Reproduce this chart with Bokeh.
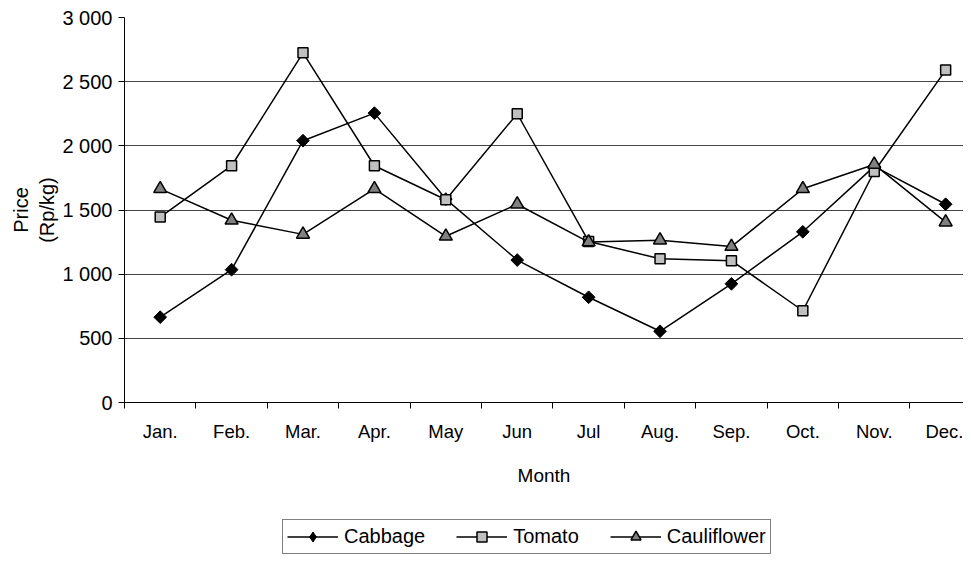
import math
from bokeh.plotting import figure
from bokeh.layouts import column
from bokeh.models import FixedTicker, Legend, LegendItem, Range1d
from bokeh.embed import file_html
from bokeh.resources import INLINE

months = ["Jan.", "Feb.", "Mar.", "Apr.", "May", "Jun", "Jul", "Aug.", "Sep.", "Oct.", "Nov.", "Dec."]
cabbage = [665, 1035, 2040, 2255, 1585, 1110, 820, 555, 925, 1330, 1840, 1545]
tomato = [1445, 1845, 2725, 1845, 1580, 2250, 1255, 1120, 1105, 715, 1800, 2590]
cauliflower = [1665, 1420, 1310, 1665, 1295, 1545, 1250, 1265, 1215, 1665, 1855, 1405]
y_ticks = [0, 500, 1000, 1500, 2000, 2500, 3000]
y_labels = ["0", "500", "1 000", "1 500", "2 000", "2 500", "3 000"]
series_names = ["Cabbage", "Tomato", "Cauliflower"]

xs = [i + 0.5 for i in range(len(months))]
FONT = "Liberation Sans"

p = figure(width=963, height=510, output_backend="svg", toolbar_location=None,
           x_range=Range1d(0, 11.75), y_range=Range1d(0, 3000),
           min_border_left=124, min_border_top=17, min_border_bottom=108, min_border_right=0)
p.outline_line_color = None
p.background_fill_color = "white"

# grid
p.xgrid.grid_line_color = None
p.ygrid.ticker = FixedTicker(ticks=y_ticks)
p.ygrid.grid_line_color = "#444444"
p.ygrid.grid_line_width = 1

# y axis
p.yaxis.ticker = FixedTicker(ticks=y_ticks)
p.yaxis.major_label_overrides = {t: l for t, l in zip(y_ticks, y_labels)}
p.yaxis.major_label_text_font = FONT
p.yaxis.major_label_text_font_size = "20px"
p.yaxis.major_label_text_color = "black"
p.yaxis.major_tick_out = 6
p.yaxis.major_tick_in = 0
p.yaxis.minor_tick_line_color = None
p.yaxis.axis_line_color = "black"
p.yaxis.major_tick_line_color = "black"
p.yaxis.major_label_standoff = 6
p.yaxis.axis_label = "Price\n(Rp/kg)"
p.yaxis.axis_label_text_font = FONT
p.yaxis.axis_label_text_font_style = "normal"
p.yaxis.axis_label_text_font_size = "20px"
p.yaxis.axis_label_text_color = "black"
p.yaxis.axis_label_standoff = 1

# x axis
p.xaxis.ticker = FixedTicker(ticks=xs, minor_ticks=list(range(0, 13)))
p.xaxis.major_label_overrides = {x: m for x, m in zip(xs, months)}
p.xaxis.major_tick_line_color = None
p.xaxis.major_tick_out = 0
p.xaxis.major_tick_in = 0
p.xaxis.minor_tick_line_color = "black"
p.xaxis.minor_tick_out = 6
p.xaxis.minor_tick_in = 0
p.xaxis.axis_line_color = "black"
p.xaxis.major_label_text_font = FONT
p.xaxis.major_label_text_font_size = "18.5px"
p.xaxis.major_label_text_color = "black"
p.xaxis.major_label_standoff = 12
p.xaxis.axis_label = "Month"
p.xaxis.axis_label_text_font = FONT
p.xaxis.axis_label_text_font_style = "normal"
p.xaxis.axis_label_text_font_size = "19px"
p.xaxis.axis_label_text_color = "black"
p.xaxis.axis_label_standoff = 20

styles = [
    dict(marker="square", angle=math.pi / 4, size=9, fill_color="black", line_color="black", line_width=1),
    dict(marker="square", angle=0, size=10, fill_color="#C0C0C0", line_color="black", line_width=1.5),
    dict(marker="triangle", angle=0, size=13, fill_color="#808080", line_color="black", line_width=1.5),
]
legend_styles = [
    dict(marker="diamond", size=12, fill_color="black", line_color="black", line_width=1),
    dict(marker="square", size=10, fill_color="#C0C0C0", line_color="black", line_width=1.5),
    dict(marker="triangle", size=13, fill_color="#808080", line_color="black", line_width=1.5),
]

for vals, st in zip([cabbage, tomato, cauliflower], styles):
    p.line(xs, vals, line_color="black", line_width=1.5)
    p.scatter(xs, vals, **st)

# legend in its own strip below the chart
p2 = figure(width=963, height=44, output_backend="svg", toolbar_location=None,
            x_range=Range1d(0, 1), y_range=Range1d(0, 1),
            x_axis_type=None, y_axis_type=None, min_border=0)
p2.outline_line_color = None
p2.grid.grid_line_color = None
items = []
for name, st in zip(series_names, legend_styles):
    lr = p2.line([5, 6], [5, 6], line_color="black", line_width=1.5)
    sr = p2.scatter([5], [5], **st)
    items.append(LegendItem(label=name, renderers=[lr, sr]))

legend = Legend(items=items, orientation="horizontal", location=(158, 0),
                glyph_width=51, glyph_height=25, label_standoff=6, spacing=31,
                padding=4, margin=0, label_height=20,
                label_text_font=FONT, label_text_font_size="20px", label_text_color="black",
                border_line_color="black", border_line_width=1,
                background_fill_color="white", background_fill_alpha=1)
p2.add_layout(legend, "center")

open("out.html", "w").write(file_html(column(p, p2, spacing=0), INLINE))
